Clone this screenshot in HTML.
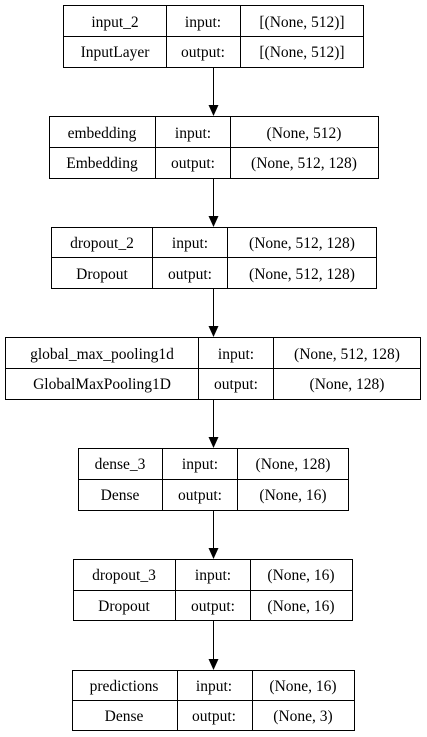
<!DOCTYPE html>
<html><head><meta charset="utf-8"><style>html,body{margin:0;padding:0;background:#fff}svg{display:block}text{font-family:'Liberation Serif','Times New Roman',Times,'DejaVu Serif','Noto Serif CJK SC',serif;font-size:15.5px}</style></head>
<body>
<svg width="427" height="737" viewBox="0 0 427 737" xmlns="http://www.w3.org/2000/svg" text-anchor="middle">
<rect width="427" height="737" fill="#fff"/>
<g fill="none" stroke="#000" stroke-width="1">
<rect x="63.5" y="5.5" width="300" height="62"/><line x1="63" y1="36.5" x2="364" y2="36.5"/><line x1="166.5" y1="5" x2="166.5" y2="68"/><line x1="240.5" y1="5" x2="240.5" y2="68"/>
<rect x="49.5" y="116.5" width="329" height="62"/><line x1="49" y1="147.5" x2="379" y2="147.5"/><line x1="155.5" y1="116" x2="155.5" y2="179"/><line x1="230.5" y1="116" x2="230.5" y2="179"/>
<rect x="51.5" y="227.5" width="325" height="61"/><line x1="51" y1="257.5" x2="377" y2="257.5"/><line x1="152.5" y1="227" x2="152.5" y2="289"/><line x1="227.5" y1="227" x2="227.5" y2="289"/>
<rect x="5.5" y="337.5" width="415" height="62"/><line x1="5" y1="368.5" x2="421" y2="368.5"/><line x1="198.5" y1="337" x2="198.5" y2="400"/><line x1="273.5" y1="337" x2="273.5" y2="400"/>
<rect x="78.5" y="448.5" width="270" height="62"/><line x1="78" y1="479.5" x2="349" y2="479.5"/><line x1="162.5" y1="448" x2="162.5" y2="511"/><line x1="237.5" y1="448" x2="237.5" y2="511"/>
<rect x="73.5" y="559.5" width="279" height="61"/><line x1="73" y1="590.5" x2="353" y2="590.5"/><line x1="175.5" y1="559" x2="175.5" y2="621"/><line x1="250.5" y1="559" x2="250.5" y2="621"/>
<rect x="72.5" y="670.5" width="282" height="60"/><line x1="72" y1="700.5" x2="355" y2="700.5"/><line x1="177.5" y1="670" x2="177.5" y2="731"/><line x1="252.5" y1="670" x2="252.5" y2="731"/>
<line x1="213.5" y1="68" x2="213.5" y2="106"/><line x1="213.5" y1="179" x2="213.5" y2="217"/><line x1="213.5" y1="289" x2="213.5" y2="327"/><line x1="213.5" y1="400" x2="213.5" y2="438"/><line x1="213.5" y1="511" x2="213.5" y2="549"/><line x1="213.5" y1="621" x2="213.5" y2="660"/>
</g>
<g fill="#000">
<polygon points="208.5,105 218.5,105 213.5,116"/><polygon points="208.5,216 218.5,216 213.5,227"/><polygon points="208.5,326 218.5,326 213.5,337"/><polygon points="208.5,437 218.5,437 213.5,448"/><polygon points="208.5,548 218.5,548 213.5,559"/><polygon points="208.5,659 218.5,659 213.5,670"/>
</g>
<g fill="#000">
<text x="115" y="27">input_2</text><text x="203" y="27">input:</text><text x="302" y="27">[(None, 512)]</text>
<text x="115" y="57">InputLayer</text><text x="203" y="57">output:</text><text x="302" y="57">[(None, 512)]</text>
<text x="102" y="138">embedding</text><text x="193" y="138">input:</text><text x="304" y="138">(None, 512)</text>
<text x="102" y="168">Embedding</text><text x="193" y="168">output:</text><text x="304" y="168">(None, 512, 128)</text>
<text x="102" y="248">dropout_2</text><text x="190" y="248">input:</text><text x="302" y="248">(None, 512, 128)</text>
<text x="102" y="279">Dropout</text><text x="190" y="279">output:</text><text x="302" y="279">(None, 512, 128)</text>
<text x="102" y="359">global_max_pooling1d</text><text x="236" y="359">input:</text><text x="347" y="359">(None, 512, 128)</text>
<text x="102" y="389">GlobalMaxPooling1D</text><text x="236" y="389">output:</text><text x="347" y="389">(None, 128)</text>
<text x="120" y="469">dense_3</text><text x="200" y="469">input:</text><text x="293" y="469">(None, 128)</text>
<text x="120" y="500">Dense</text><text x="200" y="500">output:</text><text x="293" y="500">(None, 16)</text>
<text x="124" y="580">dropout_3</text><text x="213" y="580">input:</text><text x="301" y="580">(None, 16)</text>
<text x="124" y="611">Dropout</text><text x="213" y="611">output:</text><text x="301" y="611">(None, 16)</text>
<text x="124" y="691">predictions</text><text x="214" y="691">input:</text><text x="303" y="691">(None, 16)</text>
<text x="124" y="721">Dense</text><text x="214" y="721">output:</text><text x="303" y="721">(None, 3)</text>
</g>
</svg>
</body></html>
